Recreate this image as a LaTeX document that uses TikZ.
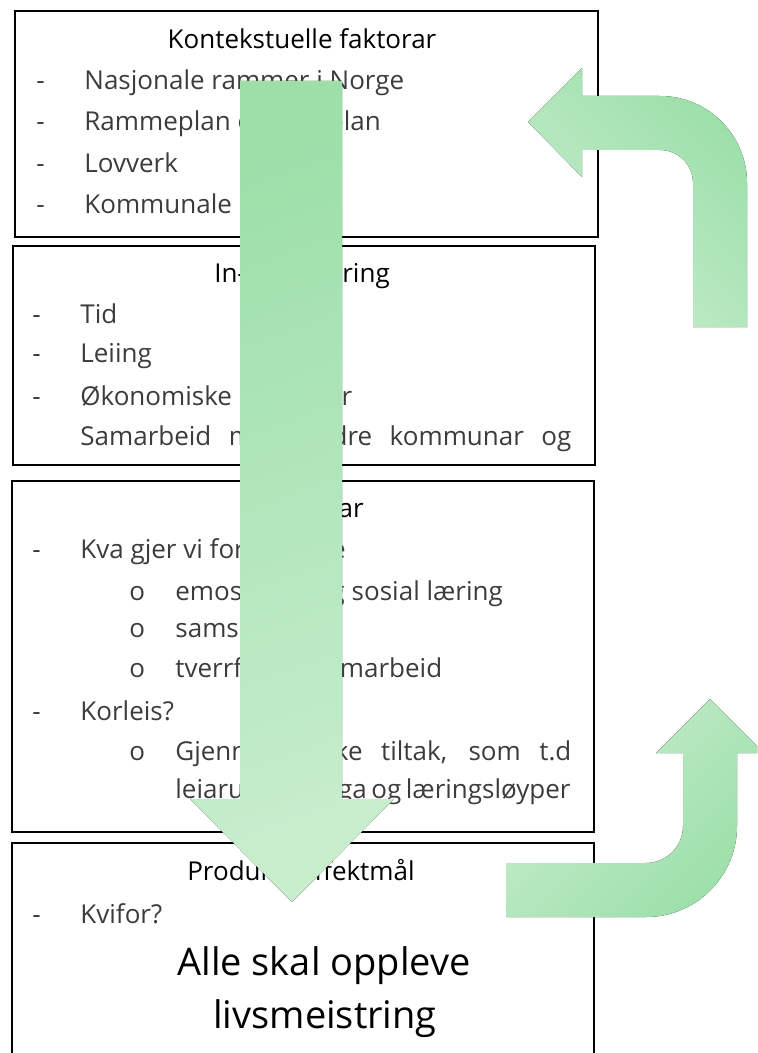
\documentclass[tikz,border=0pt]{standalone}
\usepackage{fontspec}
\setmainfont{Open Sans}
\definecolor{pilmork}{RGB}{156,223,169}
\definecolor{pillys}{RGB}{199,237,205}
\definecolor{tekstgraa}{RGB}{60,60,60}
\tikzstyle{ramme}=[draw=black,line width=1pt,inner sep=0pt,anchor=north west]
\tikzstyle{overskrift}=[font=\fontsize{13}{15}\selectfont,text=black,inner sep=0pt,anchor=base]
\tikzstyle{punkt}=[font=\fontsize{13}{15}\selectfont,text=tekstgraa,inner sep=0pt,anchor=base west]
\tikzstyle{stor}=[font=\fontsize{19}{22}\selectfont,text=black,inner sep=0pt,anchor=base]

\begin{document}
\begin{tikzpicture}[x=0.5pt,y=-0.5pt]
    \path[use as bounding box,clip] (0,0) rectangle (757,1053);
    % boksar
    \node[ramme,minimum width=291.5pt,minimum height=113pt] (kontekst) at (14,10) {};
    \node[ramme,minimum width=291pt,minimum height=109.5pt] (input) at (12,245) {};
    \node[ramme,minimum width=291pt,minimum height=175.5pt] (aktivitet) at (11,480) {};
    \node[ramme,minimum width=291pt,minimum height=112pt] (produkt) at (11,842) {};

    % kontekstuelle faktorar
    \node[overskrift] (t1) at (302,49) {Kontekstuelle faktorar};
    \foreach \y/\txt in {90/Nasjonale rammer i Norge,131/Rammeplan og læreplan,173/Lovverk,214/Kommunale planar}
    {
        \node[punkt] at (36,\y) {-};
        \node[punkt] at (84,\y) {\txt};
    }

    % input
    \node[overskrift] (t2) at (302,283) {In- prioritering};
    \foreach \y/\txt in {323/Tid,362/Leiing,405/Økonomiske ressursar}
    {
        \node[punkt] at (32,\y) {-};
        \node[punkt] at (80,\y) {\txt};
    }
    \node[punkt] (samarbeid) at (80,445) {\makebox[245.5pt][s]{Samarbeid med andre kommunar og}};

    % aktivitetar
    \node[overskrift] (t3) at (302,517) {Aktivitetar};
    \node[punkt] at (32,558) {-};
    \node[punkt] (kva) at (80,558) {Kva gjer vi for å styrke};
    \foreach \y/\txt in {600/emosjonell og sosial læring,637/samskaping,677/tverrfagleg samarbeid}
    {
        \node[punkt] at (129,\y) {o};
        \node[punkt] at (175,\y) {\txt};
    }
    \node[punkt] at (32,720) {-};
    \node[punkt] (korleis) at (80,720) {Korleis?};
    \node[punkt] at (129,760) {o};
    \node[punkt] (tiltak) at (175,760) {\makebox[198pt][s]{Gjennom ulike tiltak, som t.d}};
    \node[punkt] (leiar) at (175,798) {\makebox[197.5pt][s]{leiarutdanninga og læringsløyper}};

    % produkt
    \node[overskrift] (t4) at (301,880) {Produkt/ effektmål};
    \node[punkt] at (32,923) {-};
    \node[punkt] (kvifor) at (80,923) {Kvifor?};
    \node[stor] (alle) at (324,975) {Alle skal oppleve};
    \node[stor] (livs) at (325,1028) {livsmeistring};

    % pilar
    \fill[top color=pilmork,bottom color=pillys,shading angle=20]
        (240,81) -- (342,81) -- (342,799) -- (394,799) -- (292,902) -- (190,799) -- (240,799) -- cycle;
    \fill[bottom color=pillys,top color=pilmork,shading angle=-45]
        (528,122) -- (582,68) -- (582,96) -- (660,96) arc (-90:0:87) -- (747,327) -- (693,327)
        -- (693,183) arc (0:-90:33) -- (582,150) -- (582,177) -- cycle;
    \fill[bottom color=pilmork,top color=pillys,shading angle=45]
        (710,699) -- (764,753) -- (737,753) -- (737,826) arc (0:90:91) -- (506,917) -- (506,863)
        -- (646,863) arc (90:0:37) -- (683,753) -- (656,753) -- cycle;
\end{tikzpicture}
\end{document}
